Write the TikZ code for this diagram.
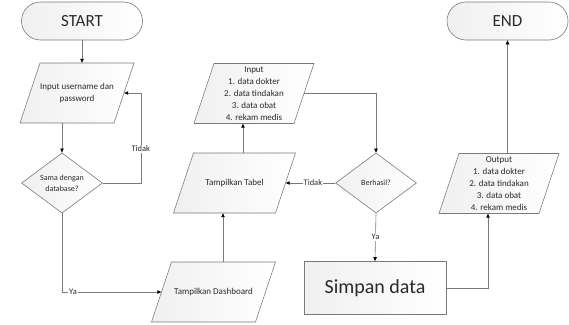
\documentclass[tikz,border=0pt]{standalone}
\usepackage{fontspec}
\setmainfont{Carlito}
\usetikzlibrary{shapes.geometric,arrows.meta,calc}
\definecolor{lineg}{HTML}{7A7A7A}
\definecolor{txt}{HTML}{2A2A2A}
\tikzset{
  boxfill/.style={draw=lineg, line width=0.6pt, left color=black!6, right color=white},
  term/.style={boxfill, rectangle, rounded corners=19pt, minimum width=121pt, minimum height=38pt,
    inner sep=0pt, text=txt, font=\fontsize{17}{19}\selectfont},
  io/.style={rectangle, draw=none, minimum height=60pt, inner sep=0pt, text=txt,
    align=center, font=\fontsize{9}{12}\selectfont},
  dec/.style={boxfill, diamond, minimum width=81pt, minimum height=60pt, inner sep=0pt,
    text=txt, align=center, font=\fontsize{8}{11}\selectfont},
  proc/.style={boxfill, rectangle, minimum width=142pt, minimum height=53pt, inner sep=0pt,
    text=txt, font=\fontsize{20}{22}\selectfont},
  flow/.style={draw=lineg, line width=0.6pt, -{Triangle[length=4pt,width=3.4pt,fill=black,color=black]}},
  lbl/.style={fill=white, inner sep=1pt, text=txt, font=\fontsize{8.5}{10}\selectfont}
}
% data box: slanted parallelogram, then a text node carrying the anchors
% #1 name, #2 centre x, #3 centre y, #4 half width at mid height, #5 text
\newcommand{\iobox}[5]{%
  \path[boxfill] ({#2-#4+10},{#3-30}) -- ({#2+#4+10},{#3-30})
    -- ({#2+#4-10},{#3+30}) -- ({#2-#4-10},{#3+30}) -- cycle;
  \node[io, minimum width={2*#4pt}] (#1) at (#2,#3) {#5};}
\begin{document}
\begin{tikzpicture}[x=1pt, y=-1pt]
  \useasboundingbox (0,0) rectangle (569,324);

  % start / end terminals
  \node[term] (start) at (82,21) {START};
  \node[term] (end) at (507.5,21) {END};

  % login part
  \iobox{login}{77}{93}{47}{Input username dan\\password}
  \node[dec] (cek) at (62,183) {Sama dengan\\database?};
  \iobox{dash}{213.5}{292}{52}{Tampilkan Dashboard}

  % data entry part
  \iobox{tabel}{234.5}{183}{51}{Tampilkan Tabel}
  \iobox{input}{254}{93.5}{50}{Input\\1. data dokter\\2. data tindakan\\3. data obat\\4. rekam medis}
  \node[dec] (hasil) at (376,183) {Berhasil?};
  \node[proc] (simpan) at (375,288) {Simpan data};
  \iobox{output}{499}{183.5}{50}{Output\\1. data dokter\\2. data tindakan\\3. data obat\\4. rekam medis}

  % connectors
  \draw[flow] (start.south) -- (start.south |- login.north);
  \draw[flow] (cek.north |- login.south) -- (cek.north);
  \draw[flow] (cek.east) -- ++(38,0) coordinate (loopc) |- (login.east);
  \node[lbl] at ($(loopc)+(0,-34)$) {Tidak};
  \draw[flow] (cek.south) |- coordinate[pos=0.5] (yac) (dash.west);
  \node[lbl] at ($(yac)+(11,0)$) {Ya};
  \draw[flow] ([xshift=9.5pt]dash.north) -- ([xshift=9.5pt]dash.north |- tabel.south);
  \draw[flow] ([xshift=8.5pt]tabel.north) -- ([xshift=8.5pt]tabel.north |- input.south);
  \draw[flow] (input.east) -| (hasil.north);
  \draw[flow] (hasil.west) -- node[lbl, pos=0.45] {Tidak} (tabel.east);
  \draw[flow] (hasil.south) -- node[lbl] {Ya} (simpan.north);
  \draw[flow] (simpan.east) -| ([xshift=-11pt]output.south);
  \draw[flow] (output.north -| end.south) -- (end.south);
\end{tikzpicture}
\end{document}
